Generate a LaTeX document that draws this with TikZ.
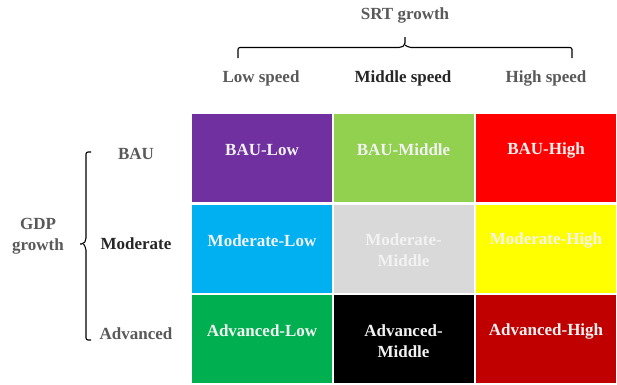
\documentclass[tikz,border=0pt]{standalone}
\usepackage{fontspec}
\setmainfont{Liberation Serif}
\begin{document}
\begin{tikzpicture}[x=1pt,y=-1pt,
  cell/.style={minimum width=140pt,minimum height=88pt,inner sep=0pt},
  celltext/.style={text=white!95!black,font=\fontsize{17}{21}\selectfont\bfseries,
    align=center,inner sep=0pt},
  lab/.style={font=\fontsize{17}{21}\selectfont\bfseries,inner sep=0pt,align=center},
  brace/.style={draw=black,line width=1.1pt,rounded corners=2pt}]
\useasboundingbox (0,0) rectangle (617,384);
\definecolor{cPurple}{HTML}{7030A0}
\definecolor{cLime}{HTML}{92D050}
\definecolor{cRed}{HTML}{FF0000}
\definecolor{cSky}{HTML}{00B0F0}
\definecolor{cGrey}{HTML}{D9D9D9}
\definecolor{cYellow}{HTML}{FFFF00}
\definecolor{cGreen}{HTML}{00B050}
\definecolor{cDark}{HTML}{000000}
\definecolor{cDarkRed}{HTML}{C00000}
\definecolor{labGrey}{HTML}{595959}

% 3x3 scenario grid
\node[cell,fill=cPurple]  (bl) at (262,158) {};
\node[cell,fill=cLime]    (bm) at (403.5,158) {};
\node[cell,fill=cRed]     (bh) at (546,158) {};
\node[cell,fill=cSky]     (ml) at (262,248.5) {};
\node[cell,fill=cGrey]    (mm) at (403.5,248.5) {};
\node[cell,fill=cYellow]  (mh) at (546,248.5) {};
\node[cell,fill=cGreen]   (al) at (262,339) {};
\node[cell,fill=cDark]    (am) at (403.5,339) {};
\node[cell,fill=cDarkRed] (ah) at (546,339) {};

% scenario names (single-line names sit a little above the middle)
\node[celltext] (tbl) at ([yshift=8pt]bl.center) {BAU-Low};
\node[celltext] (tbm) at ([yshift=8pt]bm.center) {BAU-Middle};
\node[celltext] (tbh) at ([yshift=8pt]bh.center) {BAU-High};
\node[celltext] (tml) at ([yshift=8pt]ml.center) {Moderate-Low};
\node[celltext] (tmm) at ([yshift=-2pt]mm.center) {Moderate-\\Middle};
\node[celltext] (tmh) at ([yshift=8pt]mh.center) {Moderate-High};
\node[celltext] (tal) at ([yshift=8pt]al.center) {Advanced-Low};
\node[celltext] (tam) at ([yshift=-2pt]am.center) {Advanced-\\Middle};
\node[celltext] (tah) at ([yshift=8pt]ah.center) {Advanced-High};

% column headings
\node[lab,text=labGrey] (srt) at (405,15) {SRT growth};
\node[lab,text=labGrey] (low) at (261,78) {Low speed};
\node[lab,text=black!85] (mid) at (403,78) {Middle speed};
\node[lab,text=labGrey] (high) at (546,78) {High speed};

% row headings
\node[lab,text=labGrey] (bau) at (136,154) {BAU};
\node[lab,text=black!85] (mod) at (136,244) {Moderate};
\node[lab,text=labGrey] (adv) at (136,334) {Advanced};
\node[lab,text=labGrey] (gdp) at (38,236) {GDP\\growth};

% braces
\coordinate (tl) at (238,58);
\coordinate (tr) at (572,58);
\coordinate (tt) at (405,37);
\draw[brace] (tl) -- (238,47.5) -- (401,47.5) -- (405,45) -- (tt);
\draw[brace] (tr) -- (572,47.5) -- (409,47.5) -- (405,45);

\coordinate (lt) at (91,152);
\coordinate (lb) at (91,340);
\coordinate (lm) at (80,244);
\draw[brace] (lt) -- (86,152) -- (86,240) -- (83.5,244) -- (lm);
\draw[brace] (lb) -- (86,340) -- (86,248) -- (83.5,244);
\end{tikzpicture}
\end{document}
